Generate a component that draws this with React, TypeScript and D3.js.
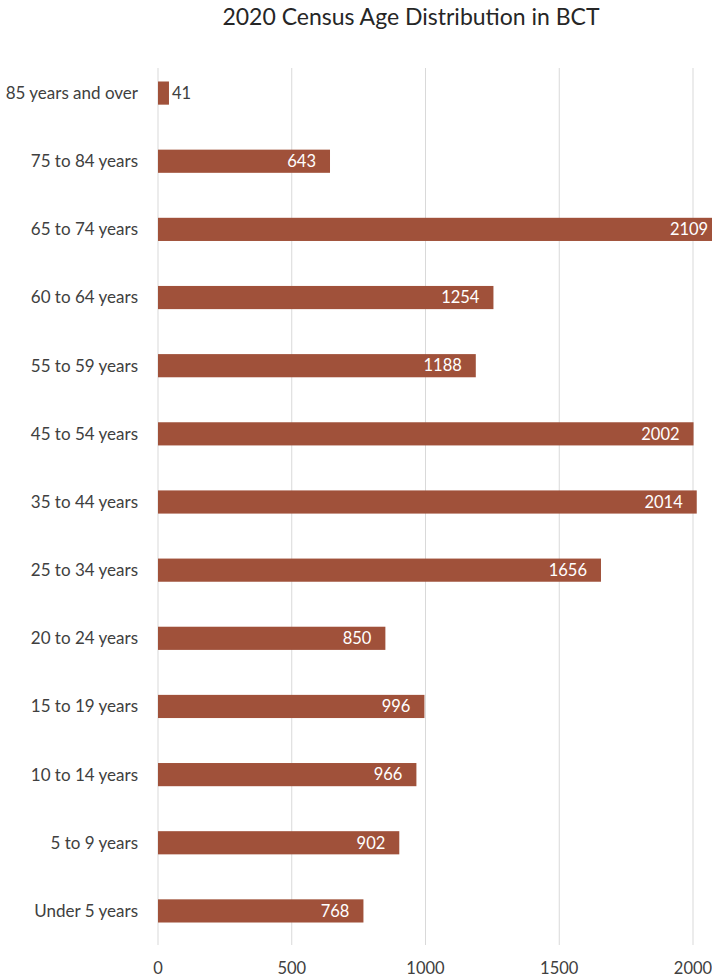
import React from "react";
import * as d3 from "d3";

const categories = [
  "85 years and over",
  "75 to 84 years",
  "65 to 74 years",
  "60 to 64 years",
  "55 to 59 years",
  "45 to 54 years",
  "35 to 44 years",
  "25 to 34 years",
  "20 to 24 years",
  "15 to 19 years",
  "10 to 14 years",
  "5 to 9 years",
  "Under 5 years",
];
const values = [41, 643, 2109, 1254, 1188, 2002, 2014, 1656, 850, 996, 966, 902, 768];
const xTicks = [0, 500, 1000, 1500, 2000];
const title = "2020 Census Age Distribution in BCT";

const W = 712;
const H = 980;
const FONT = "Lato, 'Open Sans', sans-serif";
const BAR = "#A0513A";
const TEXT = "#404040";

export default function App() {
  const x = d3.scaleLinear().domain([0, 2000]).range([158, 693]);
  const y = d3
    .scaleBand<string>()
    .domain(categories)
    .range([59, 945])
    .paddingInner(0.66)
    .paddingOuter(0.33);
  return (
    <svg
      width={W}
      height={H}
      style={{ position: "absolute", left: 0, top: 0, background: "#fff" }}
      fontFamily={FONT}
    >
      <text x={411} y={25} textAnchor="middle" fontSize={23} fill="#262626">
        {title}
      </text>
      {xTicks.map((t) => (
        <g key={t}>
          <line x1={x(t)} x2={x(t)} y1={68} y2={945} stroke="#d9d9d9" strokeWidth={1} />
          <text x={x(t)} y={968} dy="0.35em" textAnchor="middle" fontSize={16.5} fill={TEXT}>
            {t}
          </text>
        </g>
      ))}
      {categories.map((c, i) => {
        const v = values[i];
        const yy = y(c)!;
        const bw = y.bandwidth();
        const cy = yy + bw / 2;
        const inside = x(v) - x(0) > 40;
        return (
          <g key={c}>
            <rect x={x(0)} y={yy} width={x(v) - x(0)} height={bw} fill={BAR} />
            <text x={138} y={cy} dy="0.35em" textAnchor="end" fontSize={17} fill={TEXT}>
              {c}
            </text>
            <text
              x={inside ? x(v) - 14 : x(v) + 3}
              y={cy}
              dy="0.35em"
              textAnchor={inside ? "end" : "start"}
              fontSize={16.5}
              fill={inside ? "#fff" : TEXT}
            >
              {v}
            </text>
          </g>
        );
      })}
    </svg>
  );
}
